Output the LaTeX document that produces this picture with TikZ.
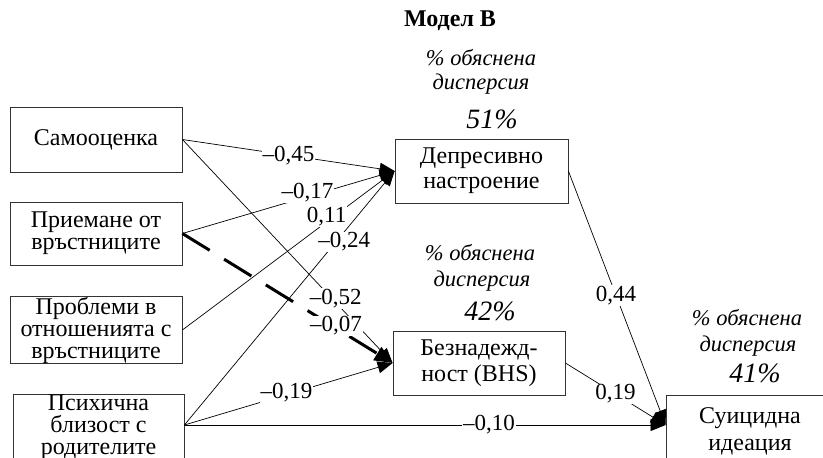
\documentclass[tikz,border=0pt]{standalone}
\usepackage{fontspec}
\setmainfont{Liberation Serif}
\usetikzlibrary{arrows.meta}

\begin{document}
\begin{tikzpicture}[x=1pt,y=-1pt,
  box/.style={draw=black!80, line width=0.8pt, fill=white, align=center,
    inner sep=0pt, font=\fontsize{24}{25}\selectfont},
  tight/.style={font=\fontsize{24}{22}\selectfont},
  path/.style={draw, line width=0.7pt, -{Triangle[length=15pt,width=12pt]}},
  boldpath/.style={draw, line width=3pt, dash pattern=on 32pt off 17pt,
    -{Triangle[length=18pt,width=15pt]}},
  coef/.style={fill=white, inner sep=1pt, font=\fontsize{23}{25}\selectfont},
  varnote/.style={anchor=base, inner sep=0pt, font=\fontsize{22.5}{24}\itshape},
  varpct/.style={anchor=base, inner sep=0pt, font=\fontsize{28}{30}\itshape}
]
\useasboundingbox (0,0) rectangle (823,458);
\clip (0,0) rectangle (823,458);

% title
\node[anchor=base, inner sep=0pt, font=\fontsize{24}{26}\bfseries] (title) at (450,26) {Модел В};

% explained variance notes
\node[varnote] (v1a) at (481,65) {\% обяснена};
\node[varnote] (v1b) at (481,89) {дисперсия};
\node[varpct]  (v1c) at (492,128) {51\%};
\node[varnote] (v2a) at (480,260) {\% обяснена};
\node[varnote] (v2b) at (482,286) {дисперсия};
\node[varpct]  (v2c) at (490,320) {42\%};
\node[varnote] (v3a) at (747,325) {\% обяснена};
\node[varnote] (v3b) at (748,351) {дисперсия};
\node[varpct]  (v3c) at (755,382) {41\%};

% predictors
\node[box, minimum width=172pt, minimum height=65pt] (self) at (96,139.5) {Самооценка};
\node[box, tight, minimum width=172pt, minimum height=63pt] (peer) at (96,233.5) {Приемане от\\връстниците};
\node[box, tight, minimum width=172pt, minimum height=64pt] (prob) at (96,330) {Проблеми в\\отношенията с\\връстниците};
\node[box, tight, minimum width=171pt, minimum height=64pt] (par) at (98.5,427) {Психична\\близост с\\родителите};

% mediators and outcome
\node[box, minimum width=173pt, minimum height=64pt] (dep) at (481.5,171) {Депресивно\\настроение};
\node[box, minimum width=172pt, minimum height=64pt] (hop) at (479,363) {Безнадежд-\\[1pt]ност (BHS)};
\node[box, minimum width=168pt, minimum height=72pt] (sui) at (750,431) {Суицидна\\[2pt]идеация};

% paths to depressive mood
\path[path] (self.east) -- node[coef, pos=0.50] {–0,45} (dep.west);
\path[path] (peer.east) -- node[coef, pos=0.59, yshift=4pt] {–0,17} (dep.west);
\path[path] (prob.east) -- node[coef, pos=0.68, yshift=5pt] {0,11} (dep.west);
\path[path] ([yshift=2pt]par.east) -- node[coef, pos=0.76, yshift=-10pt] {–0,24} (dep.west);

% paths to hopelessness
\path[path] (self.east) -- node[coef, pos=0.73, yshift=4pt] {–0,52} (hop.west);
\path[boldpath] (peer.east) -- (hop.west);
\node[coef] (c07) at (336,326) {–0,07};
\path[path] ([yshift=2pt]par.east) -- node[coef, pos=0.49, yshift=2pt] {–0,19} (hop.west);

% paths to suicidal ideation
\path[path] ([yshift=2pt]par.east) -- node[coef, pos=0.633] {–0,10} ([yshift=6pt]sui.west);
\path[path] (dep.east) -- node[coef, pos=0.49] {0,44} ([yshift=6pt]sui.west);
\path[path] (hop.east) -- node[coef, pos=0.5] {0,19} ([yshift=6pt]sui.west);
\end{tikzpicture}
\end{document}
